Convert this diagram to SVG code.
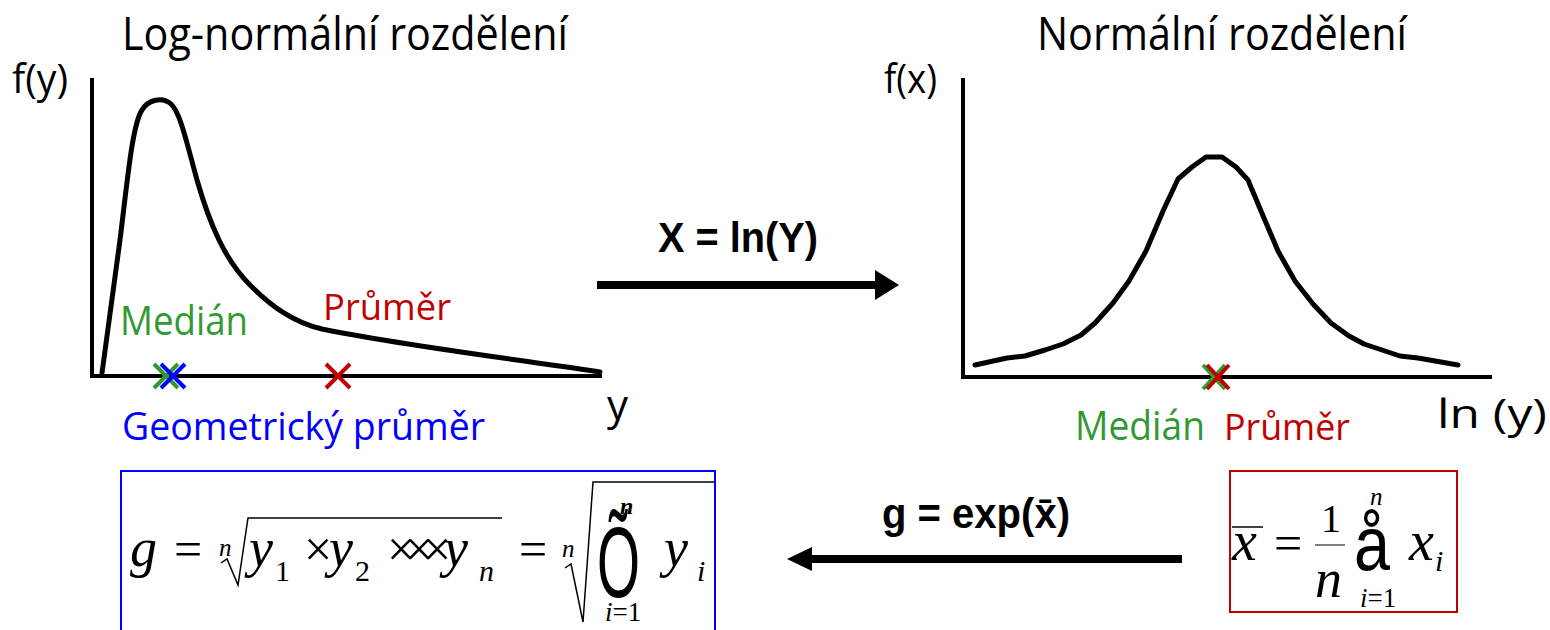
<svg xmlns="http://www.w3.org/2000/svg" width="1550" height="630" viewBox="0 0 1550 630">
<defs>
<style>
.t{font-family:"Open Sans","Noto Sans",sans-serif;fill:#000}
.g{fill:#339933}
.r{fill:#c00000}
.b{fill:#0000ff}
.h{font-family:"Liberation Sans Narrow","Liberation Sans",Arial,sans-serif;font-weight:bold;fill:#000}
.m{font-family:"Liberation Serif","Times New Roman",serif;font-style:italic;fill:#000}
.n{font-family:"Liberation Serif","Times New Roman",serif;fill:#000}
.s{font-family:"Liberation Sans",Arial,sans-serif;fill:#000}
.ax{stroke:#000;stroke-width:4;fill:none}
.cv{stroke:#000;stroke-width:5;fill:none;stroke-linejoin:round;stroke-linecap:round}
.rad{stroke:#000;stroke-width:1.5;fill:none}
</style>
<marker id="ah" markerUnits="userSpaceOnUse" viewBox="0 0 24 30" markerWidth="24" markerHeight="30" refX="0" refY="15" orient="auto">
<path d="M0,0 L24,15 L0,30 Z" fill="#000"/>
</marker>
<marker id="ah2" markerUnits="userSpaceOnUse" viewBox="0 0 25 24" markerWidth="25" markerHeight="24" refX="0" refY="12" orient="auto">
<path d="M0,0 L25,12 L0,24 Z" fill="#000"/>
</marker>
</defs>
<rect width="1550" height="630" fill="#fff"/>

<g id="lognormal">
<text class="t" x="122" y="50" font-size="46" textLength="446" lengthAdjust="spacingAndGlyphs">Log-normální rozdělení</text>
<text class="t" x="12" y="93" font-size="40" textLength="56" lengthAdjust="spacingAndGlyphs">f(y)</text>
<path class="ax" d="M92,78 V378 M90,376 H602"/>
<path class="cv" d="M102,373 L120,240 C127,185 132,125 142,110 C148,100 162,96 171,104 C180,112 186,140 197,180 C210,225 225,260 250,285 C270,305 292,322 322,329 C400,345 500,357 600,372"/>
<text class="t g" x="120" y="335" font-size="41" textLength="128" lengthAdjust="spacingAndGlyphs">Medián</text>
<text class="t r" x="323" y="320" font-size="36" textLength="128" lengthAdjust="spacingAndGlyphs">Průměr</text>
<text class="t b" x="122" y="440" font-size="38" textLength="363" lengthAdjust="spacingAndGlyphs">Geometrický průměr</text>
<text class="t" x="607" y="420" font-size="42">y</text>
<path d="M154,364 L178,388 M154,388 L178,364" stroke="#339933" stroke-width="4"/>
<path d="M161,364 L185,388 M161,388 L185,364" stroke="#0000ff" stroke-width="4"/>
<path d="M326,364 L350,388 M326,388 L350,364" stroke="#c00000" stroke-width="4"/>
</g>

<g id="normal">
<text class="t" x="1037" y="50" font-size="46" textLength="370" lengthAdjust="spacingAndGlyphs">Normální rozdělení</text>
<text class="t" x="884" y="93" font-size="40" textLength="53" lengthAdjust="spacingAndGlyphs">f(x)</text>
<path class="ax" d="M963,78 V379 M961,377 H1492"/>
<polyline class="cv" points="975,365 1007,358 1025,356 1045,350 1063,344 1081,335 1095,323 1113,303 1129,281 1146,251 1163,211 1178,179 1192,167 1206,157 1222,157 1236,167 1248,180 1261,211 1278,251 1295,281 1313,304 1331,323 1349,336 1364,344 1382,350 1400,356 1418,358 1458,365"/>
<path d="M1203,365 L1225,389 M1203,389 L1225,365" stroke="#339933" stroke-width="4"/>
<path d="M1207,365 L1229,389 M1207,389 L1229,365" stroke="#c00000" stroke-width="4"/>
<text class="t g" x="1075" y="440" font-size="40" textLength="130" lengthAdjust="spacingAndGlyphs">Medián</text>
<text class="t r" x="1224" y="440" font-size="36" textLength="126" lengthAdjust="spacingAndGlyphs">Průměr</text>
<text class="t" x="1437" y="428" font-size="40" textLength="110" lengthAdjust="spacingAndGlyphs">ln (y)</text>
</g>

<g id="connectors">
<line x1="597" y1="285" x2="875" y2="285" stroke="#000" stroke-width="8" marker-end="url(#ah)"/>
<text class="h" x="658" y="252" font-size="42" textLength="160" lengthAdjust="spacingAndGlyphs">X = ln(Y)</text>
<line x1="1182" y1="559" x2="812" y2="559" stroke="#000" stroke-width="8" marker-end="url(#ah2)"/>
<text class="h" x="882" y="528" font-size="42" textLength="188" lengthAdjust="spacingAndGlyphs">g = exp(x̄)</text>
</g>

<g id="geomean-formula">
<rect x="121" y="471" width="594" height="180" fill="none" stroke="#0000ff" stroke-width="2"/>
<text class="m" x="130" y="566" font-size="54">g</text>
<text class="n" x="174" y="566" font-size="50">=</text>
<text class="m" x="219" y="556" font-size="25">n</text>
<path class="rad" d="M221,563 L227,559 L238,585 L248,518 L502,518"/>
<text class="m" x="249" y="566" font-size="54">y</text>
<text class="n" x="275" y="581" font-size="30">1</text>
<text class="n" x="304" y="566" font-size="50">×</text>
<text class="m" x="329" y="566" font-size="54">y</text>
<text class="n" x="355" y="581" font-size="30">2</text>
<text class="n" x="387 405 423" y="566" font-size="50">×××</text>
<text class="m" x="444" y="566" font-size="54">y</text>
<text class="m" x="479" y="581" font-size="30">n</text>
<text class="n" x="519" y="566" font-size="50">=</text>
<text class="m" x="562" y="557" font-size="25">n</text>
<path class="rad" d="M565,568 L571,564 L583,622 L593,482 L714,482"/>
<text class="s" x="597" y="597" font-size="100" textLength="43" lengthAdjust="spacingAndGlyphs">Õ</text>
<text class="m" x="620" y="514" font-size="24" font-weight="bold">n</text>
<text class="m" x="605" y="621" font-size="27">i<tspan class="n" font-style="normal">=1</tspan></text>
<text class="m" x="664" y="566" font-size="54">y</text>
<text class="m" x="697" y="581" font-size="30">i</text>
</g>

<g id="mean-formula">
<rect x="1230" y="471" width="227" height="141" fill="none" stroke="#c00000" stroke-width="2"/>
<text class="m" x="1232" y="560" font-size="56">x</text>
<line x1="1232" y1="527" x2="1263" y2="527" stroke="#000" stroke-width="1.5"/>
<text class="n" x="1274" y="560" font-size="50">=</text>
<text class="n" x="1321" y="532" font-size="40">1</text>
<line x1="1315" y1="545" x2="1345" y2="545" stroke="#555" stroke-width="1.5"/>
<text class="m" x="1315" y="597" font-size="54">n</text>
<text class="s" x="1354" y="570" font-size="76" textLength="36" lengthAdjust="spacingAndGlyphs">å</text>
<text class="m" x="1370" y="505" font-size="25">n</text>
<text class="m" x="1360" y="607" font-size="27">i<tspan class="n" font-style="normal">=1</tspan></text>
<text class="m" x="1409" y="560" font-size="56">x</text>
<text class="m" x="1435" y="571" font-size="30">i</text>
</g>
</svg>
